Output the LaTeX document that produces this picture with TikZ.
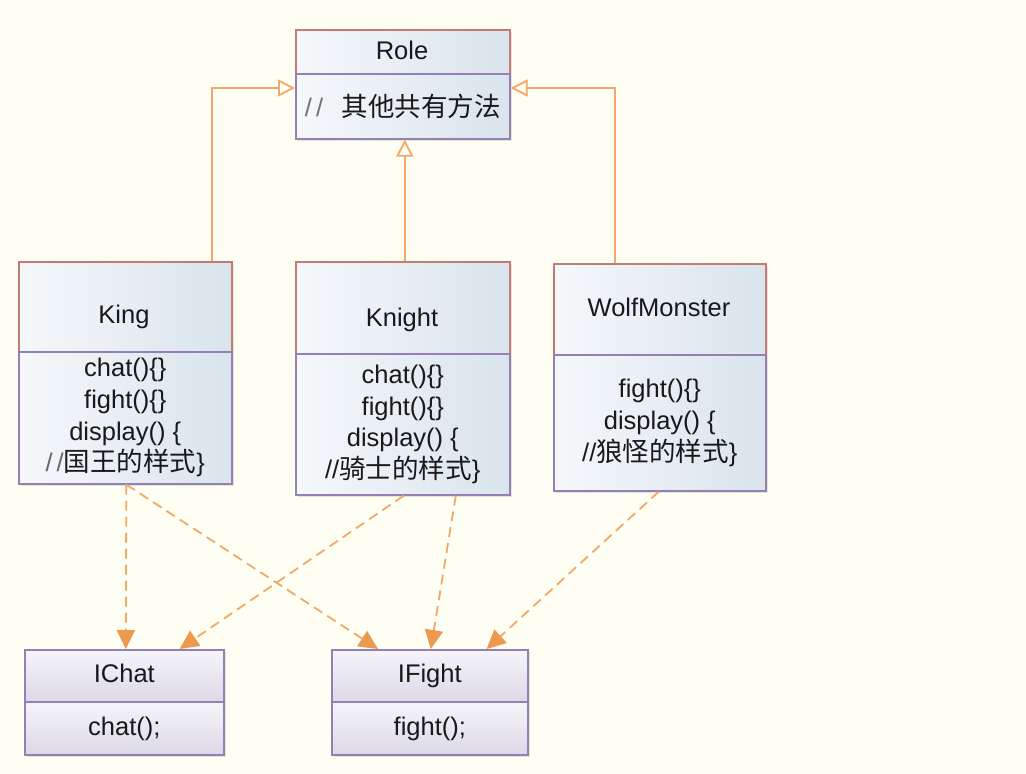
\documentclass[tikz,border=0pt]{standalone}
\usepackage{fontspec}
\setmainfont{Liberation Sans}
\newfontfamily\cjk[Scale=1.04]{Noto Sans CJK SC}
\usetikzlibrary{arrows.meta,shadows}
\definecolor{bg}{HTML}{FFFEF2}
\definecolor{hdrline}{HTML}{C47A76}
\definecolor{bodyline}{HTML}{9580B5}
\definecolor{boxlight}{HTML}{F5F8FB}
\definecolor{boxdark}{HTML}{D9E4EC}
\definecolor{ilight}{HTML}{F6F5FA}
\definecolor{idark}{HTML}{DCD8E6}
\definecolor{conn}{HTML}{F2A868}
\definecolor{tipc}{HTML}{EB9A50}
\begin{document}
\begin{tikzpicture}[x=1pt,y=-1pt,
 font=\fontsize{25.5}{31.7}\selectfont,
 part/.style={rectangle, inner sep=0pt, anchor=north west, line width=1.6pt,
   left color=boxlight, right color=boxdark,
   drop shadow={shadow xshift=2.5pt, shadow yshift=-2.5pt, opacity=0.2}},
 hdr/.style={part, draw=hdrline},
 bdy/.style={part, draw=bodyline, align=center, text=black!90},
 ipart/.style={part, draw=bodyline, top color=ilight, bottom color=idark, text=black!90,
   text height=19pt, text depth=5pt},
 txt/.style={inner sep=0pt, anchor=base, text=black!90},
 inh/.style={draw=conn, line width=1.8pt, -{Triangle[open, length=17pt, width=17pt, fill=bg]}},
 dep/.style={draw=conn, line width=1.8pt, dash pattern=on 10pt off 6pt,
   -{Triangle[length=19pt, width=18pt, color=tipc, fill=tipc]}},
]
\fill[bg] (0,0) rectangle (1026,774);
\useasboundingbox (0,0) rectangle (1026,774);

% Role
\node[hdr, minimum width=214pt, minimum height=44pt] (role) at (295,29) {};
\node[bdy, minimum width=214pt, minimum height=65pt] (roleb) at (295,73) {{\color{black!55}/\kern4pt/}\ \ \,{\cjk 其他共有方法}};
\node[txt] (rolet) at (402,59) {Role};

% King
\node[hdr, minimum width=213pt, minimum height=90pt] (king) at (18,261) {};
\node[bdy, minimum width=213pt, minimum height=132pt] (kingb) at (18,351)
  {chat()\{\}\\fight()\{\}\\display() \{\\{\color{black!60}/\kern4pt/}{\cjk 国王的样式}\}};
\node[txt] (kingt) at (124,323) {King};

% Knight
\node[hdr, minimum width=214pt, minimum height=92pt] (knight) at (295,261) {};
\node[bdy, minimum width=214pt, minimum height=141pt] (knightb) at (295,353)
  {chat()\{\}\\fight()\{\}\\display() \{\\//{\cjk 骑士的样式}\}};
\node[txt] (knightt) at (402,326) {Knight};

% WolfMonster
\node[hdr, minimum width=212pt, minimum height=91pt] (wolf) at (553,263) {};
\node[bdy, minimum width=212pt, minimum height=136pt] (wolfb) at (553,354)
  {fight()\{\}\\display() \{\\//{\cjk 狼怪的样式}\}};
\node[txt] (wolft) at (659,316) {WolfMonster};

% IChat
\node[ipart, minimum width=199pt, minimum height=52pt] (ichat) at (24,649) {IChat};
\node[ipart, minimum width=199pt, minimum height=53pt] (ichatb) at (24,701) {chat();};

% IFight
\node[ipart, minimum width=196pt, minimum height=52pt] (ifight) at (331,649) {IFight};
\node[ipart, minimum width=196pt, minimum height=53pt] (ifightb) at (331,701) {fight();};

% generalization
\draw[inh] ([xshift=-21pt]king.north east) |- ([yshift=-15pt]roleb.north west);
\draw[inh] ([xshift=2pt]knight.north) -- ([xshift=2pt]roleb.south);
\draw[inh] ([xshift=-45pt]wolf.north) |- ([yshift=-15pt]roleb.north east);

% dependencies
\draw[dep] ([xshift=1pt]kingb.south) -- ([xshift=1.5pt]ichat.north);
\draw[dep] ([xshift=1pt]kingb.south) -- ([xshift=47pt]ifight.north west);
\draw[dep] ([xshift=1pt]knightb.south) -- ([xshift=-45pt]ichat.north east);
\draw[dep] ([xshift=53pt]knightb.south) -- ([xshift=1pt]ifight.north);
\draw[dep] ([xshift=-1pt]wolfb.south) -- ([xshift=-42pt]ifight.north east);
\end{tikzpicture}
\end{document}
